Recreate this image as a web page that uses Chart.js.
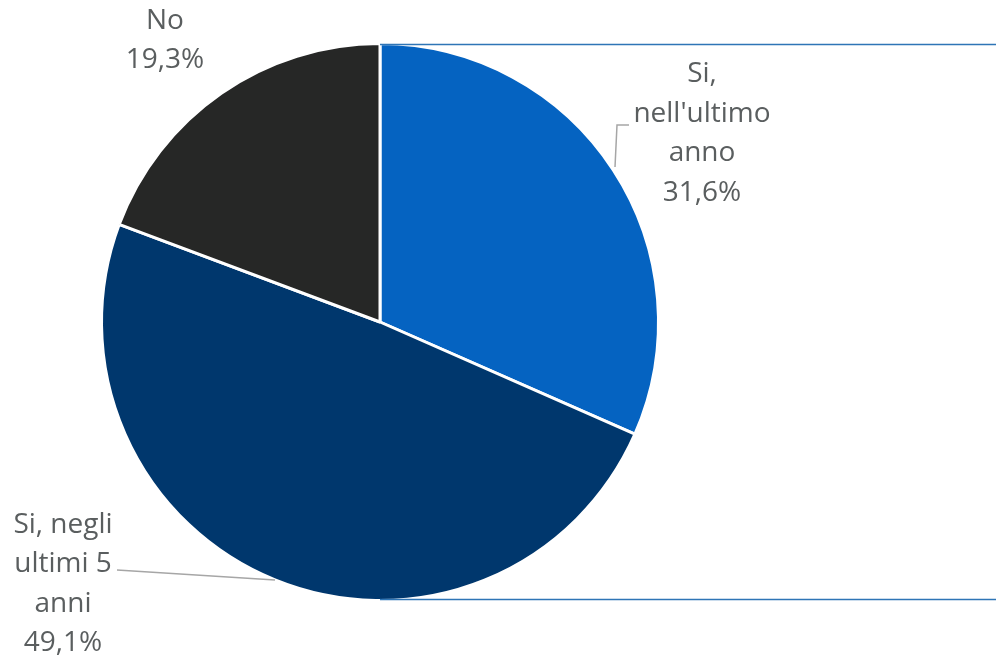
<!DOCTYPE html>
<html>
<head>
<meta charset="utf-8">
<script src="https://cdn.jsdelivr.net/npm/chart.js@4/dist/chart.umd.min.js"></script>
<style>
  html, body { margin: 0; padding: 0; background: #ffffff; }
  #wrap { width: 996px; height: 658px; position: relative; }
</style>
</head>
<body>
<div id="wrap"><canvas id="myChart" width="996" height="658"></canvas></div>
<script>
const categories = ["Si, nell'ultimo anno", "Si, negli ultimi 5 anni", "No"];
const shares = [31.6, 49.1, 19.3];
const sliceColors = ["#0563C1", "#00376D", "#262726"];

// label text split into lines, plus where each block sits relative to the pie centre
const labelLines = [
  ["Si,", "nell'ultimo", "anno"],
  ["Si, negli", "ultimi 5", "anni"],
  ["No"],
];
const labelSpots = [
  { dx: 322, dy: -247.5 },
  { dx: -317, dy: 203 },
  { dx: -215, dy: -301 },
];
const lineHeight = 39.5;
const ctx = document.getElementById("myChart").getContext("2d");

function fmt(v) {
  return v.toFixed(1).replace(".", ",") + "%";
}

const pieExtras = {
  id: "pieExtras",
  afterDraw(chart) {
    const c = chart.ctx;
    const arc = chart.getDatasetMeta(0).data[0];
    const cx = arc.x;
    const cy = arc.y;
    const r = arc.outerRadius;

    // blue rules from the top and bottom of the pie to the right edge
    c.save();
    c.strokeStyle = "#2E75B6";
    c.lineWidth = 1.5;
    c.beginPath();
    c.moveTo(cx, cy - r + 1);
    c.lineTo(chart.width, cy - r + 1);
    c.moveTo(cx, cy + r - 1);
    c.lineTo(chart.width, cy + r - 1);
    c.stroke();

    // leader lines
    c.strokeStyle = "#A6A6A6";
    c.lineWidth = 1.5;
    c.beginPath();
    c.moveTo(cx + 235, cy - 155);
    c.lineTo(cx + 237, cy - 197);
    c.lineTo(cx + 249, cy - 197);
    c.moveTo(cx - 263, cy + 248);
    c.lineTo(cx - 105, cy + 258);
    c.stroke();

    // data labels
    c.fillStyle = "#5A5E5F";
    c.font = "28px 'Open Sans'";
    c.textAlign = "center";
    c.textBaseline = "middle";
    shares.forEach((v, i) => {
      const lines = labelLines[i].concat([fmt(v)]);
      const spot = labelSpots[i];
      lines.forEach((t, k) => {
        c.fillText(t, cx + spot.dx, cy + spot.dy + k * lineHeight);
      });
    });
    c.restore();
  },
};

new Chart(ctx, {
  type: "pie",
  plugins: [pieExtras],
  data: {
    labels: categories,
    datasets: [
      {
        data: shares,
        backgroundColor: sliceColors,
        borderColor: "#ffffff",
        borderWidth: 3,
      },
    ],
  },
  options: {
    responsive: false,
    animation: false,
    layout: {
      padding: { left: 100, right: 336, top: 42, bottom: 56 },
    },
    plugins: {
      legend: { display: false },
      tooltip: { enabled: false },
    },
  },
});
</script>
</body>
</html>
